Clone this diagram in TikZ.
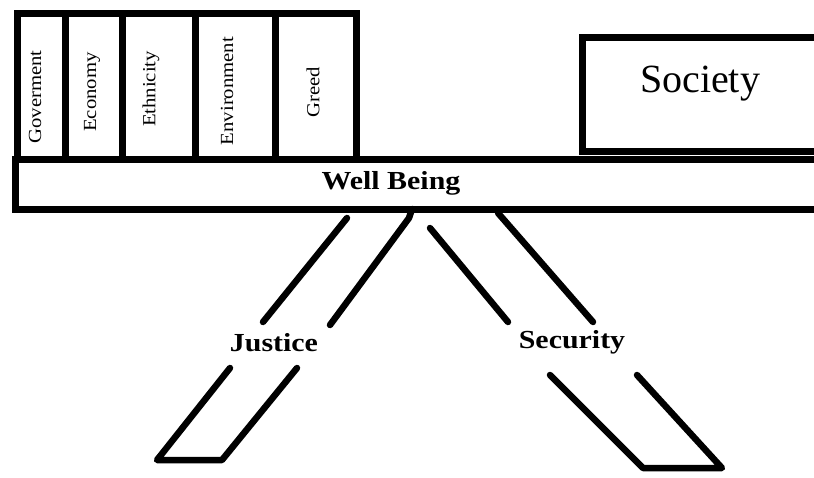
\documentclass[tikz,border=0pt]{standalone}
\usepackage{fontspec}
\setmainfont{Liberation Serif}
\begin{document}
\begin{tikzpicture}[x=1pt,y=-1pt,
  box/.style={draw=black,line width=7pt,inner sep=0pt,minimum height=146pt},
  vlabel/.style={rotate=90,xscale=1.12,inner sep=0pt,font=\fontsize{18.5}{22}\selectfont},
  bold/.style={inner sep=1pt,xscale=1.15,font=\fontsize{26}{30}\selectfont\bfseries},
  leg/.style={line width=6.5pt,line cap=round,line join=round}]
\useasboundingbox (0,0) rectangle (814,477);
\clip (0,0) rectangle (814,477);
\fill[white] (0,0) rectangle (814,477);
% category boxes
\node[box,minimum width=48pt] (gov) at (41,86) {};
\node[box,minimum width=57pt] (eco) at (93.5,86) {};
\node[box,minimum width=73pt] (eth) at (158.5,86) {};
\node[box,minimum width=80pt] (env) at (235,86) {};
\node[box,minimum width=81pt] (greed) at (315.5,86) {};
\node[vlabel] (govt) at (35,97) {Goverment};
\node[vlabel] (ecot) at (92,92) {Economy};
\node[vlabel] (etht) at (151,89) {Ethnicity};
\node[vlabel] (envt) at (227,91) {Environment};
\node[vlabel] (greedt) at (313,92) {Greed};
% society
\node[draw=black,line width=7pt,inner sep=0pt,minimum width=258pt,minimum height=114.5pt] (soc) at (711,94.25) {};
\node[inner sep=0pt,font=\fontsize{40}{48}\selectfont] (soct) at (700,84) {Society};
% bar
\node[draw=black,line width=7pt,inner sep=0pt,minimum width=824.5pt,minimum height=50pt] (bar) at (427.75,184) {};
\node[bold] (wb) at (391,183) {Well Being};
% legs
\node[bold] (just) at (274,343) {Justice};
\node[bold] (sec) at (572,342) {Security};
\coordinate (j1) at (347,218);
\coordinate (j2) at (263,322);
\coordinate (j3) at (412,209);
\coordinate (j4) at (409,218);
\coordinate (j5) at (330,325);
\coordinate (j6) at (230,368);
\coordinate (j7) at (157,460);
\coordinate (j8) at (297,368);
\coordinate (j9) at (222,460);
\draw[leg] (j1) -- (j2);
\draw[leg] (j3) -- (j4) -- (j5);
\draw[leg] (j6) -- (j7) -- (j9) -- (j8);
\coordinate (s1) at (430,228);
\coordinate (s2) at (508,322);
\coordinate (s3) at (498,213);
\coordinate (s4) at (593,322);
\coordinate (s5) at (550,375);
\coordinate (s6) at (643,468);
\coordinate (s7) at (637,375);
\coordinate (s8) at (722,468);
\draw[leg] (s1) -- (s2);
\draw[leg] (s3) -- (s4);
\draw[leg] (s5) -- (s6) -- (s8) -- (s7);
\end{tikzpicture}
\end{document}
